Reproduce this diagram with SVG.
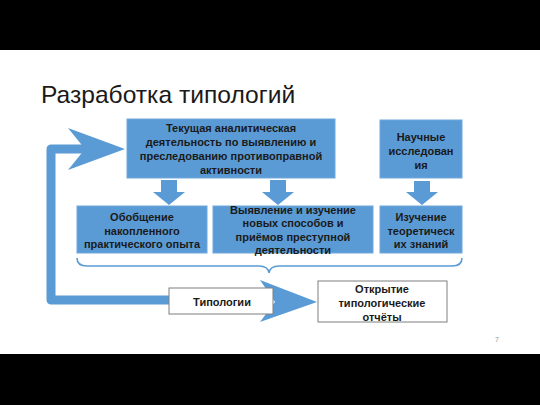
<svg xmlns="http://www.w3.org/2000/svg" width="540" height="405" viewBox="0 0 540 405">
<style>
.bx{fill:#5b9bd5;stroke:#6fa8dc;stroke-width:1}
.wb{fill:#ffffff;stroke:#7f7f7f;stroke-width:1}
.t{font-family:"Liberation Sans",Arial,sans-serif;font-size:11px;font-weight:bold;fill:#1a1a1a;text-anchor:middle}
.ar{fill:#5b9bd5}
</style>
<rect x="0" y="0" width="540" height="405" fill="#ffffff"/>
<rect x="0" y="0" width="540" height="50" fill="#000000"/>
<rect x="0" y="354" width="540" height="51" fill="#000000"/>
<text x="41" y="103" font-family="'Liberation Sans',Arial,sans-serif" font-size="24.6" fill="#1a1a1a">Разработка типологий</text>
<g id="connectors">
<path d="M90,149 H51 V300 H270" fill="none" stroke="#5b9bd5" stroke-width="9" stroke-linejoin="round"/>
<polygon class="ar" points="68,128 125,149 68,170 85,149"/>
<polygon class="ar" points="260,280 317,302 260,322 275,302"/>
<polygon class="ar" points="161,180 177,180 177,192 185,192 169,205 153,192 161,192"/>
<polygon class="ar" points="270,180 286,180 286,192 294,192 278,205 262,192 270,192"/>
<polygon class="ar" points="414,181 430,181 430,192 438,192 422,205 406,192 414,192"/>
<path d="M77,258 Q77,266 87,266 H259 Q268,266 269,273 Q270,266 279,266 H452 Q462,266 462,258" fill="none" stroke="#5b9bd5" stroke-width="1.6"/>
</g>
<g id="n1"><rect class="bx" x="127" y="119" width="208" height="59"/>
<text class="t" x="231" y="132">Текущая аналитическая</text>
<text class="t" x="231" y="146">деятельность по выявлению и</text>
<text class="t" x="231" y="160">преследованию противоправной</text>
<text class="t" x="231" y="174">активности</text></g>
<g id="n2"><rect class="bx" x="380" y="120" width="82" height="58"/>
<text class="t" x="421" y="141">Научные</text>
<text class="t" x="421" y="155">исследован</text>
<text class="t" x="421" y="169">ия</text></g>
<g id="n3"><rect class="bx" x="77" y="206" width="130" height="47"/>
<text class="t" x="142" y="221">Обобщение</text>
<text class="t" x="142" y="235">накопленного</text>
<text class="t" x="142" y="248">практического опыта</text></g>
<g id="n4"><rect class="bx" x="213" y="206" width="160" height="47"/>
<text class="t" x="293" y="214">Выявление и изучение</text>
<text class="t" x="293" y="227">новых способов и</text>
<text class="t" x="293" y="241">приёмов преступной</text>
<text class="t" x="293" y="254">деятельности</text></g>
<g id="n5"><rect class="bx" x="380" y="206" width="82" height="47"/>
<text class="t" x="421" y="221">Изучение</text>
<text class="t" x="421" y="235">теоретическ</text>
<text class="t" x="421" y="248">их знаний</text></g>
<g id="n6"><rect class="wb" x="169" y="288" width="104" height="26"/>
<text class="t" x="222" y="306">Типологии</text></g>
<g id="n7"><rect class="wb" x="318" y="281" width="129" height="41"/>
<text class="t" x="382" y="293">Открытие</text>
<text class="t" x="382" y="307">типологические</text>
<text class="t" x="382" y="321">отчёты</text></g>
<text x="497" y="342" font-family="'Liberation Sans',Arial,sans-serif" font-size="7" fill="#999999" text-anchor="middle">7</text>
</svg>
